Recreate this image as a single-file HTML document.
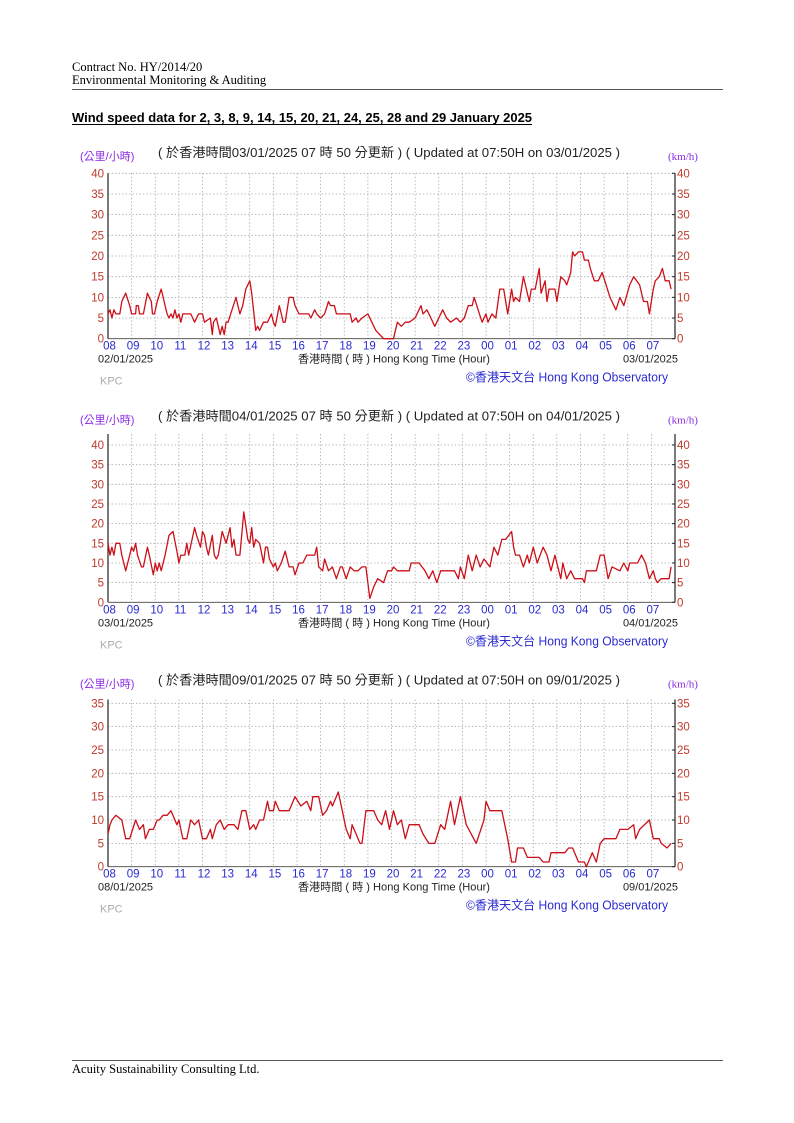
<!DOCTYPE html>
<html><head><meta charset="utf-8">
<style>
html,body{margin:0;padding:0;background:#fff;}
svg{display:block;}
</style></head>
<body>
<svg id="s" width="794" height="1123" viewBox="0 0 794 1123" xmlns="http://www.w3.org/2000/svg">
<g font-family="'Liberation Serif',serif" font-size="12.5" fill="#000">
<text x="72" y="71">Contract No. HY/2014/20</text>
<text x="72" y="84">Environmental Monitoring &amp; Auditing</text>
<text x="72" y="1073">Acuity Sustainability Consulting Ltd.</text>
</g>
<line x1="72" y1="89.5" x2="723" y2="89.5" stroke="#555" stroke-width="1"/>
<line x1="72" y1="1060.5" x2="723" y2="1060.5" stroke="#555" stroke-width="1"/>
<text x="72" y="122" font-family="'Liberation Sans',sans-serif" font-weight="bold" font-size="13" textLength="460" lengthAdjust="spacingAndGlyphs">Wind speed data for 2, 3, 8, 9, 14, 15, 20, 21, 24, 25, 28 and 29 January 2025</text>
<line x1="72" y1="124.5" x2="532" y2="124.5" stroke="#000" stroke-width="1"/>
<g id="charts"></g>
</svg>
<script>
var NS="http://www.w3.org/2000/svg";
var root=document.getElementById('charts');
function el(tag,attrs,txt,parent){var e=document.createElementNS(NS,tag);for(var k in attrs)e.setAttribute(k,attrs[k]);if(txt!=null)e.textContent=txt;(parent||root).appendChild(e);return e;}
var X0=108,X1=675,HW=(X1-X0)/24;
function hx(t){var p=t.split(':');var h=+p[0],m=+p[1];var o=h-8;if(o<0)o+=24;return X0+(o+m/60)*HW;}
function parse(s){return s.trim().split(/\s*,\s*/).map(function(x){var a=x.split(' ');return [a[0],+a[1]];});}
var charts=[
{off:0,zero:338.7,top:173.3,max:40,ppu:165.4/40,step:5,ticks:40,d1:"02/01/2025",d2:"03/01/2025",upd:"03/01/2025",
data:"08:00 6,08:05 7,08:10 5,08:15 7,08:20 6,08:30 6,08:35 9,08:45 11,08:55 8,09:00 6,09:10 6,09:12 8,09:17 8,09:20 6,09:30 6,09:40 11,09:45 10,09:50 9,09:53 6,09:58 6,10:05 9,10:15 12,10:25 8,10:30 6,10:35 5,10:40 6,10:45 5,10:50 7,10:55 5,11:00 6,11:05 4,11:10 6,11:30 6,11:35 5,11:40 4,11:45 5,11:50 6,12:00 6,12:05 4,12:20 5,12:25 1,12:28 4,12:35 5,12:40 3,12:45 1,12:50 3,12:55 1,13:00 4,13:05 4,13:15 7,13:25 10,13:30 8,13:35 6,13:42 8,13:50 12,14:00 14,14:05 11,14:15 2,14:20 3,14:25 2,14:35 4,14:45 4,14:55 6,15:00 4,15:05 3,15:15 8,15:20 6,15:25 4,15:30 4,15:40 10,15:50 10,15:55 8,16:05 6,16:30 6,16:35 5,16:45 7,16:50 6,17:00 5,17:10 6,17:20 9,17:25 8,17:35 8,17:40 6,18:15 6,18:20 4,18:30 5,18:35 4,18:45 5,19:00 6,19:10 4,19:20 2,19:30 1,19:40 0,20:05 0,20:10 2,20:15 4,20:25 3,20:35 4,20:45 4,21:00 5,21:15 8,21:20 6,21:30 7,21:40 5,21:50 3,22:00 5,22:10 7,22:20 5,22:30 4,22:45 5,22:55 4,23:05 5,23:15 8,23:25 8,23:30 10,23:40 7,23:50 4,00:00 6,00:05 4,00:15 6,00:25 5,00:35 12,00:45 12,00:55 6,01:05 12,01:10 9,01:15 10,01:25 9,01:35 15,01:40 13,01:50 9,01:55 12,02:05 12,02:15 17,02:20 11,02:30 14,02:35 9,02:40 12,02:55 12,03:00 9,03:10 15,03:20 14,03:25 13,03:35 16,03:40 21,03:45 20,03:55 21,04:05 21,04:10 19,04:20 19,04:25 17,04:35 14,04:45 14,04:55 16,05:05 13,05:15 10,05:30 7,05:40 10,05:50 8,06:05 13,06:15 15,06:30 13,06:40 9,06:50 9,06:55 6,07:05 12,07:10 14,07:20 15,07:28 17,07:35 14,07:45 14,07:50 12"},
{off:263.3,zero:602.3,top:434,max:43,ppu:157.3/40,step:5,ticks:40,d1:"03/01/2025",d2:"04/01/2025",upd:"04/01/2025",
data:"08:00 15,08:05 12,08:10 14,08:15 12,08:20 15,08:30 15,08:35 12,08:45 8,08:55 12,09:00 14,09:05 13,09:10 15,09:15 12,09:25 9,09:30 9,09:40 14,09:45 12,09:55 7,10:00 10,10:05 8,10:10 10,10:15 8,10:25 12,10:35 17,10:45 18,10:55 13,11:00 10,11:05 12,11:15 12,11:20 15,11:25 12,11:40 19,11:45 17,11:55 14,12:00 18,12:05 17,12:10 14,12:15 12,12:25 17,12:30 12,12:35 11,12:40 12,12:50 18,13:00 15,13:10 19,13:15 14,13:20 16,13:25 12,13:35 12,13:45 23,13:55 16,14:00 15,14:05 19,14:10 14,14:15 16,14:25 15,14:35 10,14:40 14,14:45 14,14:50 11,15:00 9,15:05 10,15:10 8,15:20 10,15:30 13,15:40 9,15:50 9,15:55 7,16:05 10,16:15 10,16:25 12,16:45 12,16:50 14,16:55 9,17:05 8,17:10 11,17:20 8,17:30 9,17:40 6,17:50 9,17:55 9,18:05 6,18:15 9,18:25 8,18:35 8,18:45 9,18:55 9,19:05 1,19:15 4,19:25 6,19:40 5,19:50 8,20:00 8,20:05 9,20:15 8,20:45 8,20:50 10,21:10 10,21:25 8,21:35 6,21:45 8,21:55 5,22:05 8,22:40 8,22:50 6,22:55 9,23:05 6,23:15 12,23:25 8,23:35 12,23:45 9,23:55 11,00:10 9,00:20 14,00:30 12,00:40 16,00:50 16,01:05 18,01:10 14,01:15 12,01:25 12,01:35 9,01:45 12,01:50 10,02:00 14,02:10 10,02:25 14,02:35 12,02:45 8,02:55 12,03:05 8,03:10 6,03:15 10,03:25 6,03:35 8,03:45 6,04:05 6,04:10 5,04:15 8,04:40 8,04:50 12,05:00 12,05:10 6,05:20 9,05:40 8,05:50 10,06:00 8,06:05 10,06:25 10,06:35 12,06:45 10,06:55 6,07:05 8,07:10 6,07:15 5,07:25 6,07:45 6,07:50 9"},
{off:527.5,zero:866.7,top:699.5,max:35.8,ppu:163.4/35,step:5,ticks:35,d1:"08/01/2025",d2:"09/01/2025",upd:"09/01/2025",
data:"08:00 7,08:05 9,08:10 10,08:20 11,08:35 10,08:45 6,08:55 6,09:10 10,09:20 8,09:30 9,09:35 6,09:45 8,09:55 8,10:05 10,10:10 10,10:20 11,10:30 11,10:40 12,10:55 9,11:00 10,11:10 6,11:20 6,11:30 10,11:40 9,11:50 10,12:00 6,12:10 6,12:20 8,12:25 6,12:35 9,12:45 10,12:55 8,13:05 9,13:20 9,13:30 8,13:40 12,13:50 12,14:00 8,14:10 9,14:15 8,14:25 10,14:35 10,14:45 14,14:50 12,15:00 12,15:05 14,15:15 12,15:40 12,15:50 14,15:55 15,16:10 13,16:25 14,16:35 12,16:40 15,16:55 15,17:05 11,17:15 12,17:25 14,17:30 13,17:45 16,17:55 12,18:05 8,18:15 6,18:20 9,18:30 7,18:40 5,18:45 5,18:55 12,19:15 12,19:25 10,19:35 9,19:45 12,19:55 8,20:05 12,20:15 9,20:25 10,20:35 6,20:45 9,21:00 9,21:10 9,21:20 7,21:35 5,21:50 5,22:05 9,22:15 8,22:30 14,22:40 9,22:55 15,23:10 9,23:35 5,23:55 10,00:00 14,00:10 12,00:30 12,00:40 12,00:55 6,01:05 1,01:15 1,01:20 4,01:35 4,01:45 2,02:15 2,02:25 1,02:40 1,02:45 3,03:20 3,03:30 4,03:40 4,03:45 3,03:55 1,04:10 1,04:15 0,04:30 3,04:40 1,04:50 5,05:00 6,05:30 6,05:40 8,06:00 8,06:15 9,06:20 6,06:30 8,06:55 10,07:05 6,07:20 6,07:25 5,07:40 4,07:50 5"}
];
var hours=["08","09","10","11","12","13","14","15","16","17","18","19","20","21","22","23","00","01","02","03","04","05","06","07"];
var SANS="'Liberation Sans','Noto Sans CJK TC',sans-serif";
charts.forEach(function(c){
  var o=c.off, z=c.zero, tp=c.top;
  function vy(v){return z-v*c.ppu;}
  for(var v=c.step;v<=c.ticks;v+=c.step){var y=vy(v);el('line',{x1:X0,y1:y,x2:X1,y2:y,stroke:'#aaa','stroke-width':0.8,'stroke-dasharray':'1.5,2'});}
  for(var i=1;i<24;i++){var x=X0+i*HW;el('line',{x1:x,y1:tp,x2:x,y2:z,stroke:'#aaa','stroke-width':0.8,'stroke-dasharray':'1.5,2'});}
  el('line',{x1:X0,y1:tp,x2:X0,y2:z,stroke:'#222','stroke-width':1.2});
  el('line',{x1:X1,y1:tp,x2:X1,y2:z,stroke:'#222','stroke-width':1.2});
  el('line',{x1:X0,y1:z,x2:X1,y2:z,stroke:'#444','stroke-width':0.8});
  for(var v=0;v<=c.ticks;v+=c.step){var y=vy(v);
    el('text',{x:104,y:y+4,'text-anchor':'end','font-family':SANS,'font-size':11.5,fill:'#c0392b'},String(v));
    el('text',{x:677,y:y+4,'font-family':SANS,'font-size':11.5,fill:'#c0392b'},String(v));
    el('line',{x1:X1-3,y1:y,x2:X1,y2:y,stroke:'#222','stroke-width':1});
  }
  hours.forEach(function(h,i){el('text',{x:X0+i*HW+1.5,y:z+11,'text-anchor':'middle','font-family':SANS,'font-size':11.5,fill:'#2a2ad0'},h);});
  var pts=parse(c.data).map(function(p){return hx(p[0]).toFixed(1)+','+vy(p[1]).toFixed(1);}).join(' ');
  el('polyline',{points:pts,fill:'none',stroke:'#cc0f18','stroke-width':1.3,'stroke-linejoin':'round'});
  el('text',{x:80,y:o+160,'font-family':SANS,'font-size':11,fill:'#8a2be2'},'(公里/小時)');
  el('text',{x:158,y:o+157,'font-family':SANS,'font-size':13,fill:'#222',textLength:462,lengthAdjust:'spacingAndGlyphs'},'( 於香港時間'+c.upd+' 07 時 50 分更新 ) ( Updated at 07:50H on '+c.upd+' )');
  el('text',{x:668,y:o+160,'font-family':"'Liberation Serif',serif",'font-size':11,fill:'#8a2be2'},'(km/h)');
  el('text',{x:98,y:z+24,'font-family':SANS,'font-size':11,fill:'#222'},c.d1);
  el('text',{x:678,y:z+24,'text-anchor':'end','font-family':SANS,'font-size':11,fill:'#222'},c.d2);
  el('text',{x:298,y:z+24,'font-family':SANS,'font-size':11,fill:'#222',textLength:192,lengthAdjust:'spacingAndGlyphs'},'香港時間 ( 時 ) Hong Kong Time (Hour)');
  el('text',{x:466,y:z+43,'font-family':SANS,'font-size':12.5,fill:'#2a2ad0',textLength:202,lengthAdjust:'spacingAndGlyphs'},'©香港天文台 Hong Kong Observatory');
  el('text',{x:100,y:z+46,'font-family':SANS,'font-size':11,fill:'#aaa'},'KPC');
});
</script>
</body></html>
